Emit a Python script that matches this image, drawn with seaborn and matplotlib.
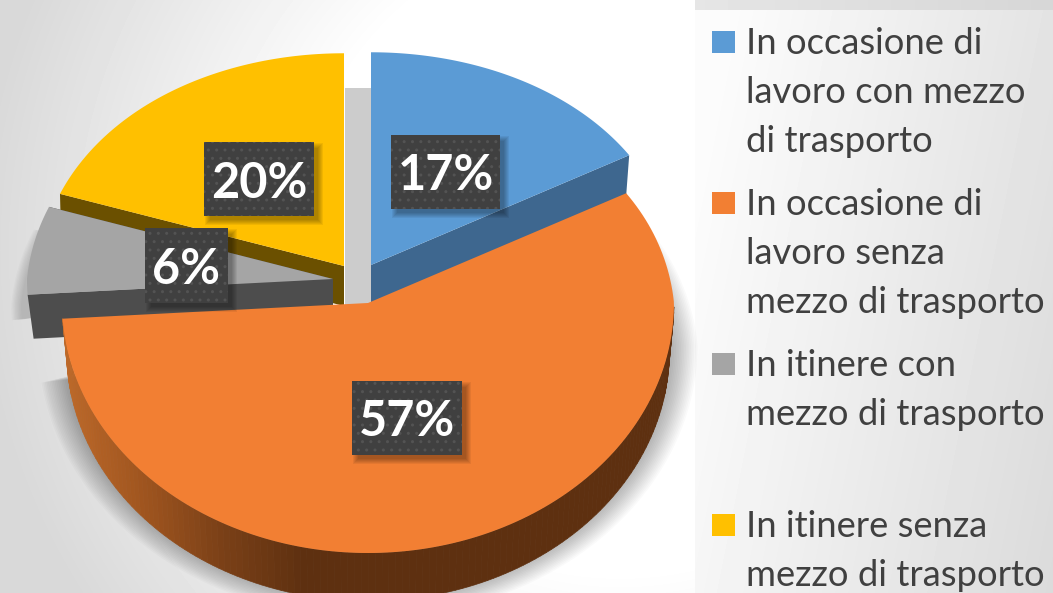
import numpy as np
import matplotlib
matplotlib.use("Agg")
import matplotlib.pyplot as plt
from matplotlib.colors import LinearSegmentedColormap
from matplotlib.patches import Rectangle
import seaborn as sns

# dati del grafico
categories = [
    "In occasione di\nlavoro con mezzo\ndi trasporto",
    "In occasione di\nlavoro senza\nmezzo di trasporto",
    "In itinere con\nmezzo di trasporto\n",
    "In itinere senza\nmezzo di trasporto",
]
values = [17, 57, 6, 20]

W, H = 1053, 593
top_colors = ["#5B9BD5", "#F27F33", "#A5A5A5", "#FFC000"]
side_colors = ["#3E678F", "#5E3010", "#4D4D4D", "#6B5000"]
apex = [(371, 265), (368, 303), (333, 279), (344, 266)]
depth = [40, 48, 44, 40]
label_boxes = [(391, 135, 109, 74), (352, 381, 110, 74), (145, 228, 83, 75), (204, 142, 110, 74)]
draw_order = [3, 2, 0, 1]

A, B_TOP, B_BOT, P_X, P_Y = 306, 244, 250, 0.08, 0.147


def rim_xy(frac, cx, cy):
    # frac = frazione di giro in senso orario dalle ore 12
    th = 2 * np.pi * np.asarray(frac)
    s, c = np.sin(th), np.cos(th)
    up = c >= 0
    x = A * s / np.where(up, 1 + P_X * c, 1.0)
    y = np.where(up, B_TOP * c / (1 + P_Y * c), B_BOT * c)
    return cx + x, cy - y


def main():
    sns.set_theme(style="white")
    plt.rcParams["font.family"] = ["Lato", "DejaVu Sans"]

    fig = plt.figure(figsize=(W / 100, H / 100), dpi=100)
    ax = fig.add_axes([0, 0, 1, 1])

    # sfondo grigio sfumato
    yy, xx = np.mgrid[0:H, 0:W]
    d = np.hypot((xx - 620) / 640, (yy - 250) / 640)
    bg = 1 - 0.15 * np.clip((d - 0.5) / 0.5, 0, 1)
    pdist = 0.13 * np.clip((xx - 700) / 350 * 0.8 + (yy - 150) / 440 * 0.2, 0, 1) + 0.012
    panel = (xx >= 695) & (yy >= 10)
    bg[panel] = 1 - pdist[panel]
    top = (yy < 10) & (xx >= 695)
    bg[top] = 0.90 - 0.06 * (xx[top] - 695) / 358
    ax.imshow(bg, cmap="gray", vmin=0, vmax=1, extent=(0, W, H, 0), aspect="auto", zorder=0)

    edges = np.cumsum([0] + values) / sum(values)

    # ombre morbide dietro le fette
    t = np.linspace(edges[1], edges[2] - 0.012, 140)
    x, y = rim_xy(t, 0, 0)
    for k in range(18):
        g = 1 + k * 0.0055
        ax.fill(np.r_[368 + x * g * 0.985, 368], np.r_[303 + 42 + y * g, 303],
                color="black", alpha=0.018, lw=0, zorder=1)
    t = np.linspace(edges[2], edges[3], 30)
    x, y = rim_xy(t, 0, 0)
    for k in range(9):
        g = 1 + k * 0.004
        ax.fill(np.r_[333 - 6 + x * g, 333], np.r_[279 + 25 + y * g, 279],
                color="black", alpha=0.018, lw=0, zorder=1)

    # parete grigia tra le fette gialla e blu
    ax.add_patch(Rectangle((345, 88), 27, 220, fc="#CCCCCC", lw=0, zorder=1.5))

    rim_cmap = LinearSegmentedColormap.from_list("rim", ["#BE6A2A", "#A0551F", "#7A4017", "#5E3010", "#5E3010"])

    for n, i in enumerate(draw_order):
        t = np.linspace(edges[i], edges[i + 1], 160)
        cx, cy = apex[i]
        x, y = rim_xy(t, cx, cy)
        z = 2 + n
        dz = depth[i]
        if i == 1:
            # bordo esterno con sfumatura da sinistra a destra
            xb = cx + (x - cx) * 0.985
            for j in range(len(t) - 1):
                if t[j] < 0.25:
                    continue
                col = rim_cmap(np.clip((x[j] - 60) / 330, 0, 1))
                ax.fill([x[j], x[j + 1], xb[j + 1], xb[j]],
                        [y[j], y[j + 1], y[j + 1] + dz, y[j] + dz],
                        color=col, lw=0.5, zorder=z)
        elif i == 2:
            ax.fill([x[-1], cx, cx, x[-1] + 6], [y[-1], cy, cy + dz, y[-1] + dz], color=side_colors[i], lw=0, zorder=z)
            ax.fill([x[0], cx, cx, x[0] + 6], [y[0], cy, cy + dz, y[0] + dz], color=side_colors[i], lw=0, zorder=z)
        else:
            # faccia radiale visibile
            k = -1 if i == 0 else 0
            inset = -3 if i == 0 else 1
            ax.fill([x[k], cx, cx, x[k] + inset], [y[k], cy, cy + dz, y[k] + dz], color=side_colors[i], lw=0, zorder=z)
        ax.fill(np.r_[cx, x], np.r_[cy, y], color=top_colors[i], lw=0, zorder=z + 0.5)

    # etichette percentuali su riquadro scuro puntinato
    plt.rcParams["hatch.linewidth"] = 1.0
    for i, (bx, by, bw, bh) in enumerate(label_boxes):
        for k in range(6):
            ax.add_patch(Rectangle((bx + 6 - k, by + 6 - k), bw + 2 * k - 2, bh + 2 * k - 2,
                                   fc="black", alpha=0.06, lw=0, zorder=10))
        ax.add_patch(Rectangle((bx, by), bw, bh, fc="#404040", ec="#535353", hatch="..", lw=0, zorder=11))
        ax.text(bx + bw / 2, by + bh / 2 + 4, f"{values[i]}%", color="white", fontsize=35, fontweight="bold",
                ha="center", va="center", zorder=12)

    # legenda
    baselines = [53, 214, 375, 536]
    for i, label in enumerate(categories):
        b = baselines[i]
        ax.add_patch(Rectangle((712, b - 22), 23, 22, fc=top_colors[i], lw=0, zorder=5))
        for j, line in enumerate(label.split("\n")):
            ax.text(746, b + 1 + j * 49, line, color="#404040", fontsize=26.2, ha="left", va="baseline", zorder=5)

    ax.set_xlim(0, W)
    ax.set_ylim(H, 0)
    ax.axis("off")
    fig.savefig("out.png", dpi=100)
    plt.close(fig)


if __name__ == "__main__":
    main()
